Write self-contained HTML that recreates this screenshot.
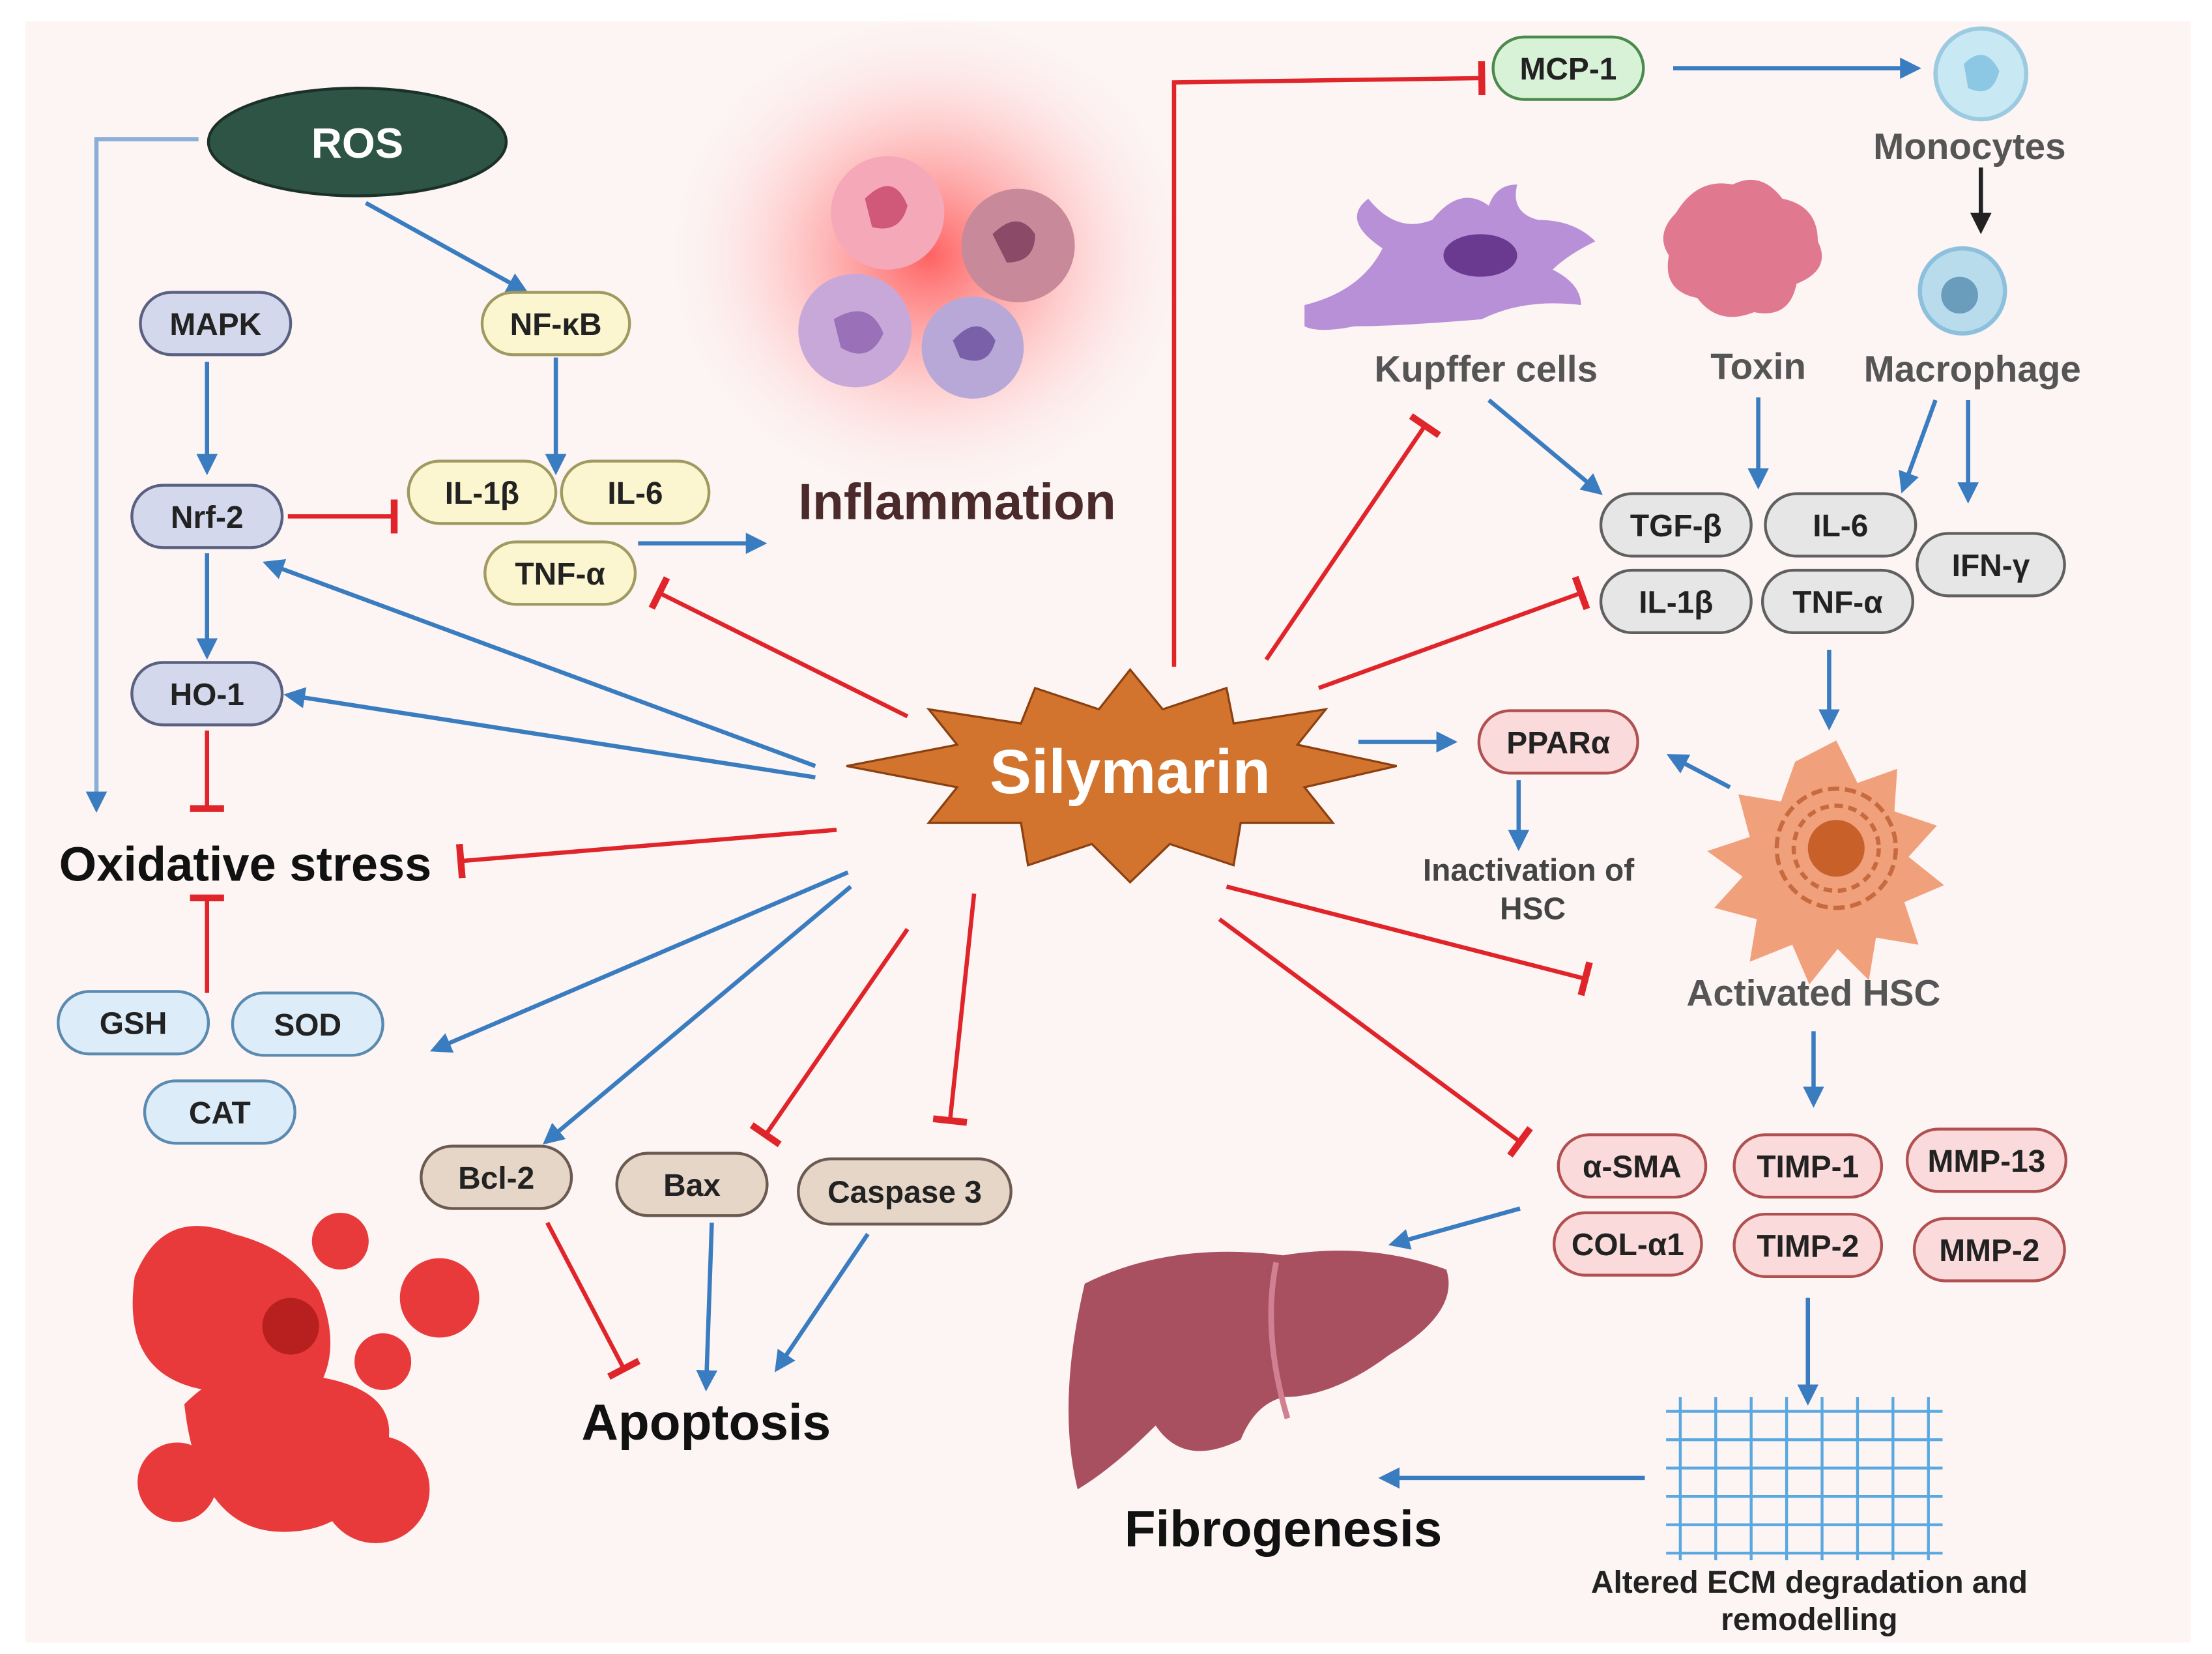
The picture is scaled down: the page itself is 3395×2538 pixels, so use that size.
<!DOCTYPE html>
<html><head><meta charset="utf-8"><style>
html,body{margin:0;padding:0;background:#fff;}
svg{display:block;}
text{font-family:"Liberation Sans",sans-serif;font-weight:bold;}
</style></head><body>
<svg width="3395" height="2538" viewBox="0 0 1560 1166" xmlns="http://www.w3.org/2000/svg">
<defs>
<radialGradient id="glow" cx="0.5" cy="0.5" r="0.5">
<stop offset="0" stop-color="#ff5a5a" stop-opacity="0.95"/>
<stop offset="0.45" stop-color="#ffa0a0" stop-opacity="0.6"/>
<stop offset="1" stop-color="#fdf3f3" stop-opacity="0"/>
</radialGradient>
<marker id="ab" viewBox="0 0 10 10" refX="8" refY="5" markerWidth="5" markerHeight="5" orient="auto"><path d="M0,0L10,5L0,10z" fill="#3a7cc0"/></marker>
<marker id="ak" viewBox="0 0 10 10" refX="8" refY="5" markerWidth="5" markerHeight="5" orient="auto"><path d="M0,0L10,5L0,10z" fill="#222"/></marker>
<marker id="tb" viewBox="0 0 4 20" refX="2" refY="10" markerWidth="3" markerHeight="8" orient="auto"><rect x="0" y="0" width="4" height="20" fill="#e0252a"/></marker>
</defs>
<rect x="18" y="15" width="1527" height="1143" fill="#fdf4f4"/>
<ellipse cx="655" cy="180" rx="190" ry="175" fill="url(#glow)"/>

<circle cx="626" cy="150" r="40" fill="#f4a8b8"/><path d="M610,140 q20,-20 30,5 q-5,20 -25,15z" fill="#d05878"/>
<circle cx="718" cy="173" r="40" fill="#c88a9a"/><path d="M700,165 q18,-18 30,0 q0,20 -20,20z" fill="#8a4a68"/>
<circle cx="603" cy="233" r="40" fill="#c8a8d8"/><path d="M588,225 q25,-15 35,10 q-10,22 -30,10z" fill="#9a70b8"/>
<circle cx="686" cy="245" r="36" fill="#b8a8d8"/><path d="M672,240 q18,-20 30,0 q-5,20 -25,12z" fill="#7a60a8"/>

<circle cx="1397" cy="52" r="32" fill="#c8e8f4" stroke="#9ccae0" stroke-width="3"/><path d="M1385,45 q15,-15 25,5 q-5,20 -22,12z" fill="#8cc8e4"/>
<circle cx="1384" cy="205" r="30" fill="#b8dcec" stroke="#8cc0dc" stroke-width="3"/><circle cx="1382" cy="208" r="13" fill="#6a9cbc"/>
<path d="M920,215 q40,-10 55,-40 q-30,-20 -10,-35 q20,25 45,15 q20,-25 40,-10 q5,-15 20,-15 q-5,20 15,25 q25,0 40,15 q-20,10 -30,20 q20,10 20,25 q-40,-5 -70,10 q-60,5 -90,5 q-25,5 -35,0z" fill="#b890d8"/>
<ellipse cx="1044" cy="180" rx="26" ry="15" fill="#6a3a90"/>
<path d="M1182,150 q15,-25 40,-20 q20,-10 35,10 q25,5 25,30 q10,20 -15,30 q-5,25 -30,20 q-25,10 -40,-10 q-25,-5 -20,-30 q-10,-15 5,-30z" fill="#e07890"/>
<path d="M1295,522 l15,30 28,-10 -2,30 30,10 -20,22 25,20 -28,12 10,30 -30,-5 -5,30 -22,-22 -20,25 -12,-28 -30,12 5,-30 -30,-8 20,-22 -25,-18 30,-10 -8,-30 30,5 10,-28z" fill="#f0a07a"/>
<circle cx="1295" cy="598" r="42" fill="none" stroke="#c86a40" stroke-width="3" stroke-dasharray="8 4"/>
<circle cx="1295" cy="598" r="30" fill="none" stroke="#c86a40" stroke-width="3" stroke-dasharray="6 4"/>
<circle cx="1295" cy="598" r="20" fill="#c8602a"/>
<path d="M765,905 q60,-30 140,-20 q60,-10 115,10 q10,30 -40,60 q-40,30 -75,30 q-20,5 -30,30 q-40,20 -60,-10 q-30,30 -55,45 q-15,-60 5,-145z" fill="#a85060"/>
<path d="M900,890 q-10,50 8,110" stroke="#d08090" stroke-width="4" fill="none"/>
<g stroke="#5aa8e0" stroke-width="2" fill="none">
<path d="M1175,995 h195 M1175,1015 h195 M1175,1035 h195 M1175,1055 h195 M1175,1075 h195 M1175,1095 h195"/>
<path d="M1185,985 v115 M1210,985 v115 M1235,985 v115 M1260,985 v115 M1285,985 v115 M1310,985 v115 M1335,985 v115 M1360,985 v115"/>
</g>
<g fill="#e83a3a">
<path d="M95,900 q20,-50 70,-30 q40,10 60,40 q20,50 -10,80 q-40,20 -70,-10 q-60,-10 -50,-80z"/>
<circle cx="240" cy="875" r="20"/><circle cx="310" cy="915" r="28"/><circle cx="270" cy="960" r="20"/>
<path d="M130,990 q40,-40 90,-20 q70,10 50,60 q-20,50 -70,50 q-60,0 -70,-90z"/>
<circle cx="265" cy="1050" r="38"/><circle cx="125" cy="1045" r="28"/><circle cx="240" cy="1000" r="14"/>
<circle cx="205" cy="935" r="20" fill="#b82020"/>
</g>

<polygon points="797,472 820,500 865,485 870,510 935,500 915,525 985,540 920,555 940,580 875,580 870,610 825,595 797,622 770,595 725,610 720,580 655,580 675,555 597,540 675,525 655,500 720,510 730,485 775,500" fill="#d2732e" stroke="#8a4010" stroke-width="1.5"/>
<text x="797" y="559" font-size="44" fill="#fff" text-anchor="middle">Silymarin</text>

<g stroke="#3a7cc0" stroke-width="3" fill="none" marker-end="url(#ab)">
<path d="M140,98 H68 V570" stroke="#8ab0d8"/>
<path d="M258,143 L370,205"/>
<path d="M146,255 V332"/><path d="M392,252 V332"/><path d="M146,390 V462"/>
<path d="M575,540 L188,397"/><path d="M575,548 L203,490"/>
<path d="M450,383 H538"/>
<path d="M598,615 L306,740"/><path d="M600,625 L385,805"/>
<path d="M502,862 L498,978"/><path d="M612,870 L548,965"/>
<path d="M1180,48 H1352"/>
<path d="M1050,282 L1128,347"/><path d="M1240,280 V342"/><path d="M1365,282 L1342,345"/><path d="M1388,282 V352"/>
<path d="M1290,458 V512"/><path d="M958,523 H1025"/><path d="M1220,555 L1178,533"/><path d="M1071,550 V597"/>
<path d="M1279,727 V778"/><path d="M1072,852 L982,877"/><path d="M1275,915 V988"/><path d="M1160,1042 H975"/>
</g>
<path d="M1397,118 V162" stroke="#222" stroke-width="3" marker-end="url(#ak)"/>

<g stroke="#e0252a" stroke-width="3" fill="none" marker-end="url(#tb)">
<path d="M203,364 H278"/><path d="M146,515 V570"/><path d="M146,700 V633"/>
<path d="M590,585 L325,607"/><path d="M640,505 L465,418"/>
<path d="M828,470 V58 L1045,55"/>
<path d="M893,465 L1005,300"/><path d="M930,485 L1115,418"/>
<path d="M865,625 L1118,690"/><path d="M860,648 L1072,805"/>
<path d="M640,655 L540,800"/><path d="M687,630 L670,790"/>
<path d="M386,862 L440,965"/>
</g>

<ellipse cx="252" cy="100" rx="105" ry="38" fill="#2e5446" stroke="#1a3028" stroke-width="2"/>
<text x="252" y="111" font-size="30" fill="#fff" text-anchor="middle">ROS</text>

<g font-size="22" text-anchor="middle" stroke-width="2">
<g fill="#d4d8ec" stroke="#5a6080">
<rect x="99" y="206" width="106" height="44" rx="22"/><rect x="93" y="342" width="106" height="44" rx="22"/><rect x="93" y="467" width="106" height="44" rx="22"/></g>
<g fill="#fbf6d0" stroke="#a09a60">
<rect x="340" y="206" width="104" height="44" rx="22"/><rect x="288" y="325" width="104" height="44" rx="22"/><rect x="396" y="325" width="104" height="44" rx="22"/><rect x="342" y="382" width="106" height="44" rx="22"/></g>
<g fill="#dcecf8" stroke="#5a8ab0">
<rect x="41" y="699" width="106" height="44" rx="22"/><rect x="164" y="700" width="106" height="44" rx="22"/><rect x="102" y="762" width="106" height="44" rx="22"/></g>
<g fill="#e6d6c8" stroke="#6a5a50">
<rect x="297" y="808" width="106" height="44" rx="22"/><rect x="435" y="813" width="106" height="44" rx="22"/><rect x="563" y="817" width="150" height="46" rx="23"/></g>
<rect x="1053" y="26" width="106" height="44" rx="22" fill="#d8f2d8" stroke="#4a8a4a"/>
<g fill="#e6e6e6" stroke="#606060">
<rect x="1129" y="348" width="106" height="44" rx="22"/><rect x="1245" y="348" width="106" height="44" rx="22"/><rect x="1129" y="402" width="106" height="44" rx="22"/><rect x="1243" y="402" width="106" height="44" rx="22"/><rect x="1352" y="376" width="104" height="44" rx="22"/></g>
<g fill="#fadada" stroke="#b05050">
<rect x="1043" y="501" width="112" height="44" rx="22"/>
<rect x="1099" y="800" width="104" height="44" rx="22"/><rect x="1223" y="800" width="104" height="44" rx="22"/><rect x="1345" y="796" width="112" height="44" rx="22"/>
<rect x="1096" y="855" width="104" height="44" rx="22"/><rect x="1223" y="856" width="104" height="44" rx="22"/><rect x="1350" y="859" width="106" height="44" rx="22"/></g>
<g fill="#222" stroke="none">
<text x="152" y="236">MAPK</text><text x="146" y="372">Nrf-2</text><text x="146" y="497">HO-1</text>
<text x="392" y="236">NF-κB</text><text x="340" y="355">IL-1β</text><text x="448" y="355">IL-6</text><text x="395" y="412">TNF-α</text>
<text x="94" y="729">GSH</text><text x="217" y="730">SOD</text><text x="155" y="792">CAT</text>
<text x="350" y="838">Bcl-2</text><text x="488" y="843">Bax</text><text x="638" y="848">Caspase 3</text>
<text x="1106" y="56">MCP-1</text>
<text x="1182" y="378">TGF-β</text><text x="1298" y="378">IL-6</text><text x="1182" y="432">IL-1β</text><text x="1296" y="432">TNF-α</text><text x="1404" y="406">IFN-γ</text>
<text x="1099" y="531">PPARα</text>
<text x="1151" y="830">α-SMA</text><text x="1275" y="830">TIMP-1</text><text x="1401" y="826">MMP-13</text>
<text x="1148" y="885">COL-α1</text><text x="1275" y="886">TIMP-2</text><text x="1403" y="889">MMP-2</text>
</g></g>

<g text-anchor="middle">
<text x="675" y="366" font-size="36" fill="#4a2a2a">Inflammation</text>
<text x="173" y="621" font-size="34" fill="#111">Oxidative stress</text>
<text x="498" y="1015" font-size="36" fill="#111">Apoptosis</text>
<text x="905" y="1090" font-size="36" fill="#111">Fibrogenesis</text>
<g font-size="26" fill="#555">
<text x="1389" y="112">Monocytes</text><text x="1048" y="269">Kupffer cells</text><text x="1240" y="267">Toxin</text><text x="1391" y="269">Macrophage</text>
<text x="1279" y="709">Activated HSC</text></g>
<g font-size="22" fill="#444"><text x="1078" y="621">Inactivation of</text><text x="1081" y="648">HSC</text></g>
<g font-size="22" fill="#222"><text x="1276" y="1123">Altered ECM degradation and</text><text x="1276" y="1149">remodelling</text></g>
</g>
</svg>
</body></html>
